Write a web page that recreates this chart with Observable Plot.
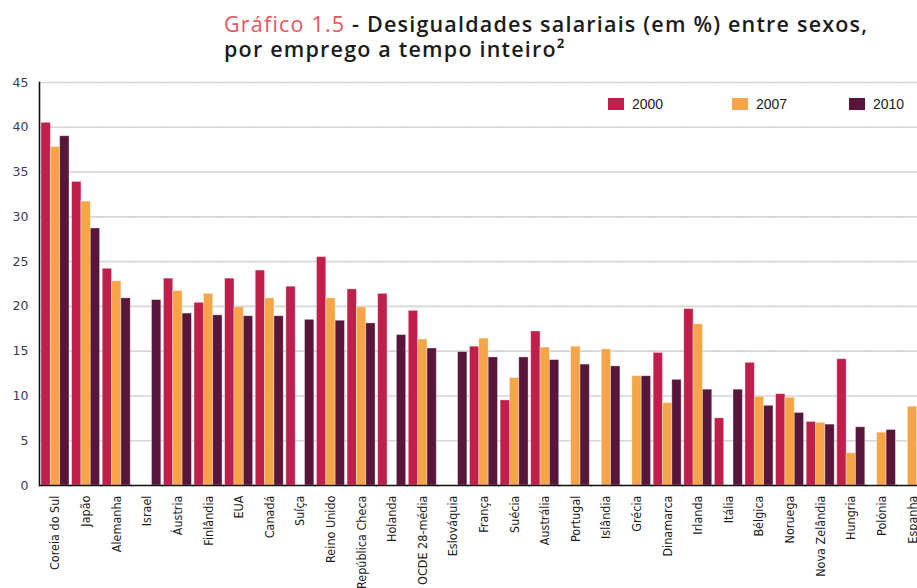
<!DOCTYPE html>
<html>
<head>
<meta charset="utf-8">
<script src="https://cdn.jsdelivr.net/npm/d3@7"></script>
<script src="https://cdn.jsdelivr.net/npm/@observablehq/plot@0.6"></script>
<style>
  html, body { margin: 0; padding: 0; background: #fff; overflow: hidden; }
  #title { position: relative; height: 70px; }
  #title .line { position: absolute; left: 224px; font-family: "Open Sans", Roboto, sans-serif; font-size: 21.5px; line-height: 25px; font-weight: 600; letter-spacing: 1.2px; color: #1c1c1c; white-space: nowrap; }
  #title .num { color: #E9515E; font-weight: 400; }
  #chart { position: relative; width: 917px; height: 518px; overflow: hidden; }
  #legend { position: absolute; top: 27px; left: 0; width: 917px; height: 14px; font-family: "Liberation Sans", Arial, sans-serif; font-size: 14px; color: #222; }
  #legend .item { position: absolute; top: 0; display: flex; align-items: center; height: 14px; }
  #legend .sw { width: 16px; height: 12px; margin-right: 8px; }
</style>
</head>
<body>
<div id="title">
  <div class="line" style="top:11px"><span class="num">Gráfico 1.5</span><span> - Desigualdades salariais (em %) entre sexos,</span></div>
  <div class="line" style="top:36px"><span>por emprego a tempo inteiro²</span></div>
</div>
<div id="chart"><div id="legend"></div></div>
<script>
const countries = ["Coreia do Sul", "Japão", "Alemanha", "Israel", "Áustria", "Finlândia", "EUA", "Canadá", "Suíça", "Reino Unido", "República Checa", "Holanda", "OCDE 28-média", "Eslováquia", "França", "Suécia", "Austrália", "Portugal", "Islândia", "Grécia", "Dinamarca", "Irlanda", "Itália", "Bélgica", "Noruega", "Nova Zelândia", "Hungria", "Polónia", "Espanha"];
const years = [2000, 2007, 2010];
const v2000 = [40.5, 33.9, 24.2, null, 23.1, 20.4, 23.1, 24.0, 22.2, 25.5, 21.9, 21.4, 19.5, null, 15.5, 9.5, 17.2, null, null, null, 14.8, 19.7, 7.5, 13.7, 10.2, 7.1, 14.1, null, null];
const v2007 = [37.8, 31.7, 22.8, null, 21.7, 21.4, 19.9, 20.9, null, 20.9, 19.9, null, 16.3, null, 16.4, 12.0, 15.4, 15.5, 15.2, 12.2, 9.2, 18.0, null, 9.9, 9.8, 7.0, 3.6, 5.9, 8.8];
const v2010 = [39.0, 28.7, 20.9, 20.7, 19.2, 19.0, 18.9, 18.9, 18.5, 18.4, 18.1, 16.8, 15.3, 14.9, 14.3, 14.3, 14.0, 13.5, 13.3, 12.2, 11.8, 10.7, 10.7, 8.9, 8.1, 6.8, 6.5, 6.2, null];
const colors = ["#C01E4B", "#F5A447", "#58163B"];
const yTicks = [0, 5, 10, 15, 20, 25, 30, 35, 40, 45];

const series = [v2000, v2007, v2010];
const data = [];
countries.forEach((c, i) => {
  years.forEach((y, j) => {
    const v = series[j][i];
    if (v != null) data.push({country: c, year: y, value: v});
  });
});

const chart = Plot.plot({
  width: 928,
  height: 518,
  marginTop: 12,
  marginBottom: 103,
  marginLeft: 39,
  marginRight: 0,
  style: {background: "white", overflow: "hidden", maxWidth: "none", fontFamily: "'DejaVu Sans', sans-serif"},
  fx: {domain: countries, paddingInner: 0.085, paddingOuter: 0.065, round: false, label: null},
  x: {domain: years, padding: 0, round: false, axis: null},
  y: {domain: [0, 45], label: null},
  color: {type: "ordinal", domain: years, range: colors},
  marks: [
    Plot.ruleY(yTicks.filter(d => d > 0), {stroke: "#d6d6d6", strokeWidth: 1.6, insetLeft: -2, insetRight: -2}),
    Plot.barY(data, {fx: "country", x: "year", y: "value", fill: "year", stroke: "#fff", strokeOpacity: 0.45, strokeWidth: 0.8}),
    Plot.ruleY([0], {stroke: "#111", strokeWidth: 1.6, insetLeft: -2, insetRight: -2}),
    Plot.frame({anchor: "left", facet: "super", stroke: "#111", strokeWidth: 1.6, dx: -2}),
    Plot.axisY({ticks: yTicks, tickSize: 0, tickPadding: 13, fontSize: 12.5, fill: "#3b3b55", label: null}),
    Plot.axisFx({anchor: "bottom", tickRotate: -90, tickSize: 0, tickPadding: 10, fontSize: 12.5, fill: "#1a1a1a", label: null, fontFamily: "'Liberation Sans Narrow', 'DejaVu Sans Condensed', sans-serif"})
  ]
});
document.getElementById("chart").prepend(chart);

const legend = document.getElementById("legend");
const legendX = [608, 732, 849];
years.forEach((y, j) => {
  const item = document.createElement("div");
  item.className = "item";
  item.style.left = legendX[j] + "px";
  const sw = document.createElement("div");
  sw.className = "sw";
  sw.style.background = colors[j];
  const t = document.createElement("span");
  t.textContent = String(y);
  item.appendChild(sw);
  item.appendChild(t);
  legend.appendChild(item);
});
</script>
</body>
</html>
